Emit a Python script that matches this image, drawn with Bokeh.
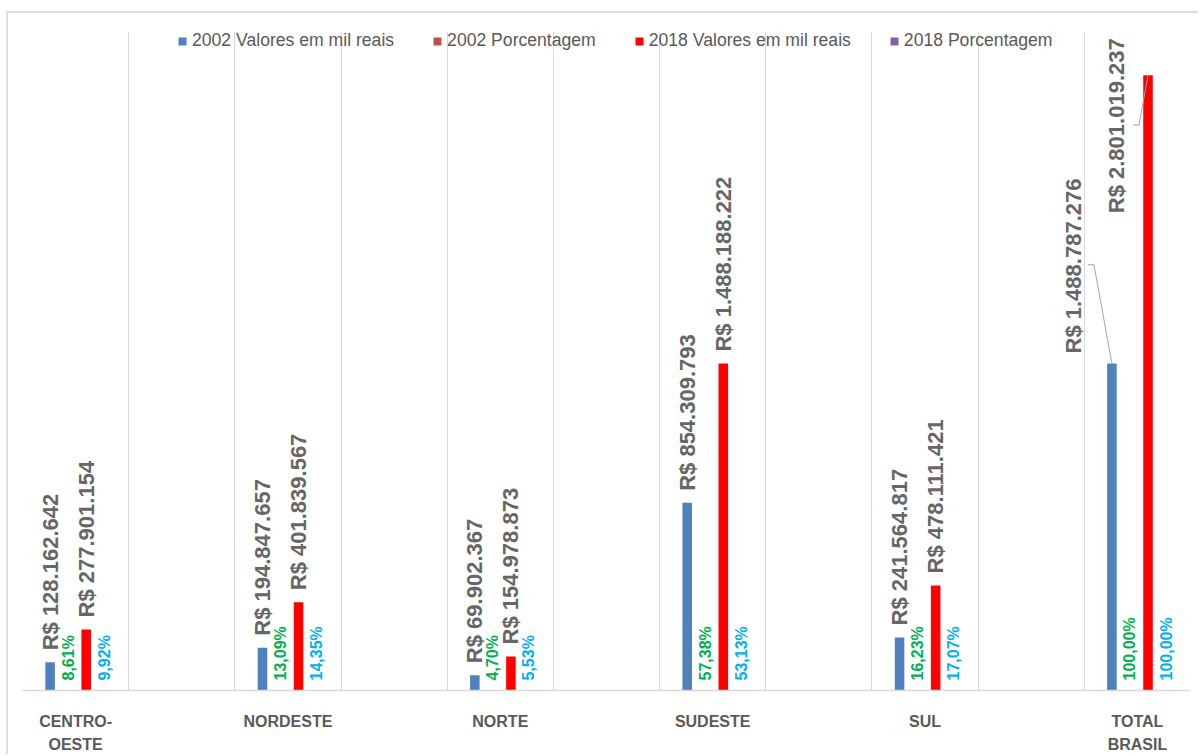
import math

from bokeh.core.properties import value
from bokeh.embed import file_html
from bokeh.models import (ColumnDataSource, FixedTicker, Legend, LegendItem,
                          Range1d)
from bokeh.plotting import figure
from bokeh.resources import INLINE

# ---- data -------------------------------------------------------------
regioes = ["CENTRO-\nOESTE", "NORDESTE", "NORTE", "SUDESTE", "SUL", "TOTAL\nBRASIL"]
valores_2002 = [128162642, 194847657, 69902367, 854309793, 241564817, 1488787276]
pct_2002 = [8.61, 13.09, 4.70, 57.38, 16.23, 100.00]
valores_2018 = [277901154, 401839567, 154978873, 1488188222, 478111421, 2801019237]
pct_2018 = [9.92, 14.35, 5.53, 53.13, 17.07, 100.00]
series = ["2002 Valores em mil reais", "2002 Porcentagem",
          "2018 Valores em mil reais", "2018 Porcentagem"]

# ---- layout -----------------------------------------------------------
PAGE_W, PAGE_H = 1200, 756
OUT_L, OUT_T = 8, 13               # chart box inset on the page
W, H = PAGE_W - OUT_L, PAGE_H - OUT_T
B_LEFT, B_RIGHT, B_TOP, B_BOTTOM = 22 - OUT_L, 10, 31 - OUT_T, 64
FRAME_W = W - B_LEFT - B_RIGHT
FRAME_H = H - B_TOP - B_BOTTOM
N_SLOTS = 11                      # each region takes one slot, an empty slot between
Y_MAX = 3.0e9
OFFS = [-0.24, -0.07, 0.10, 0.27]  # position of the four series inside a slot
BAR_W = 0.09
PX_X = N_SLOTS / FRAME_W          # data units per screen pixel
PX_Y = Y_MAX / FRAME_H

centers = [2 * i + 0.5 for i in range(len(regioes))]
xs = [[c + o for c in centers] for o in OFFS]

def reais(v):
    return "R$ " + f"{v:,}".replace(",", ".")

def pct(v):
    return f"{v:.2f}%".replace(".", ",")

FONT = "Liberation Sans"
GRAY_TXT = "#666666"

p = figure(width=W, height=H, x_range=Range1d(0, N_SLOTS), y_range=Range1d(0, Y_MAX),
           output_backend="svg", toolbar_location=None, y_axis_location=None,
           min_border_left=B_LEFT, min_border_right=B_RIGHT,
           min_border_top=B_TOP, min_border_bottom=B_BOTTOM)
p.outline_line_color = None
p.background_fill_color = "white"
p.border_fill_color = "white"
p.styles = {"margin-left": f"{OUT_L - 2}px", "margin-top": f"{OUT_T - 2}px",
            "border-left": "2px solid #DDDDDD", "border-top": "2px solid #DDDDDD"}

for g in p.ygrid:
    g.visible = False

# vertical separators between slots
p.xgrid.ticker = FixedTicker(ticks=list(range(0, N_SLOTS + 1)))
p.xgrid.grid_line_color = "#D9D9D9"
p.xgrid.grid_line_width = 1

ax = p.xaxis[0]
ax.ticker = FixedTicker(ticks=centers)
ax.major_label_overrides = {c: r for c, r in zip(centers, regioes)}
ax.axis_line_color = "#D9D9D9"
ax.axis_line_width = 1.5
ax.major_tick_line_color = None
ax.minor_tick_line_color = None
ax.major_label_standoff = 16
ax.major_label_text_font = FONT
ax.major_label_text_font_style = "bold"
ax.major_label_text_font_size = "16px"
ax.major_label_text_color = "#595959"
ax.major_label_text_line_height = 1.4

# ---- bars -------------------------------------------------------------
r_v02 = p.vbar(x=xs[0], top=valores_2002, width=BAR_W, fill_color="#4F81BD", line_color=None)
r_p02 = p.vbar(x=xs[1], top=pct_2002, width=BAR_W, fill_color="#C0504D", line_color=None)
r_v18 = p.vbar(x=xs[2], top=valores_2018, width=BAR_W, fill_color="#FF0000", line_color=None)
r_p18 = p.vbar(x=xs[3], top=pct_2018, width=BAR_W, fill_color="#8064A2", line_color=None)

# ---- value labels (the totals are pulled aside with leader lines) -----
def value_labels(x, vals, total_dx, total_dy):
    n = len(vals)
    dx = [0] * (n - 1) + [total_dx]
    dy = [-12] * (n - 1) + [total_dy]
    return ColumnDataSource(dict(x=x, y=vals, t=[reais(v) for v in vals], dx=dx, dy=dy))

for src in (value_labels(xs[0], valores_2002, -38, -10),
            value_labels(xs[2], valores_2018, -32, 138)):
    p.text(x="x", y="y", text="t", x_offset="dx", y_offset="dy", source=src,
           angle=math.pi / 2, text_align="left", text_baseline="middle",
           text_font=value(FONT), text_font_style="bold", text_font_size="22px",
           text_color=GRAY_TXT)

xb, vb = xs[0][-1], valores_2002[-1]
xr, vr = xs[2][-1], valores_2018[-1]
p.multi_line(
    xs=[[xb - 24 * PX_X, xb - 18 * PX_X, xb], [xr - 15 * PX_X, xr - 9 * PX_X, xr]],
    ys=[[vb + 99 * PX_Y, vb + 99 * PX_Y, vb], [vr - 50 * PX_Y, vr - 50 * PX_Y, vr]],
    line_color="#A6A6A6", line_width=1)

# ---- percentage labels at the base --------------------------------------
for x, vals, col in ((xs[1], pct_2002, "#00B050"), (xs[3], pct_2018, "#00B0F0")):
    src = ColumnDataSource(dict(x=x, y=[0] * len(vals), t=[pct(v) for v in vals]))
    p.text(x="x", y="y", text="t", source=src, y_offset=-10,
           angle=math.pi / 2, text_align="left", text_baseline="middle",
           text_font=value(FONT), text_font_style="bold", text_font_size="16px",
           text_color=col)

# ---- legend -------------------------------------------------------------
legend = Legend(
    items=[LegendItem(label=s, renderers=[r]) for s, r in zip(series, (r_v02, r_p02, r_v18, r_p18))],
    orientation="horizontal", location=(177 - 22, FRAME_H - 22),
    padding=0, margin=0, spacing=38, label_standoff=5,
    glyph_width=10, glyph_height=10, label_height=18,
    border_line_color=None, background_fill_alpha=0,
    label_text_font=FONT, label_text_font_size="17.6px",
    label_text_color="#595959")
p.add_layout(legend)

open("out.html", "w").write(file_html(p, INLINE))
